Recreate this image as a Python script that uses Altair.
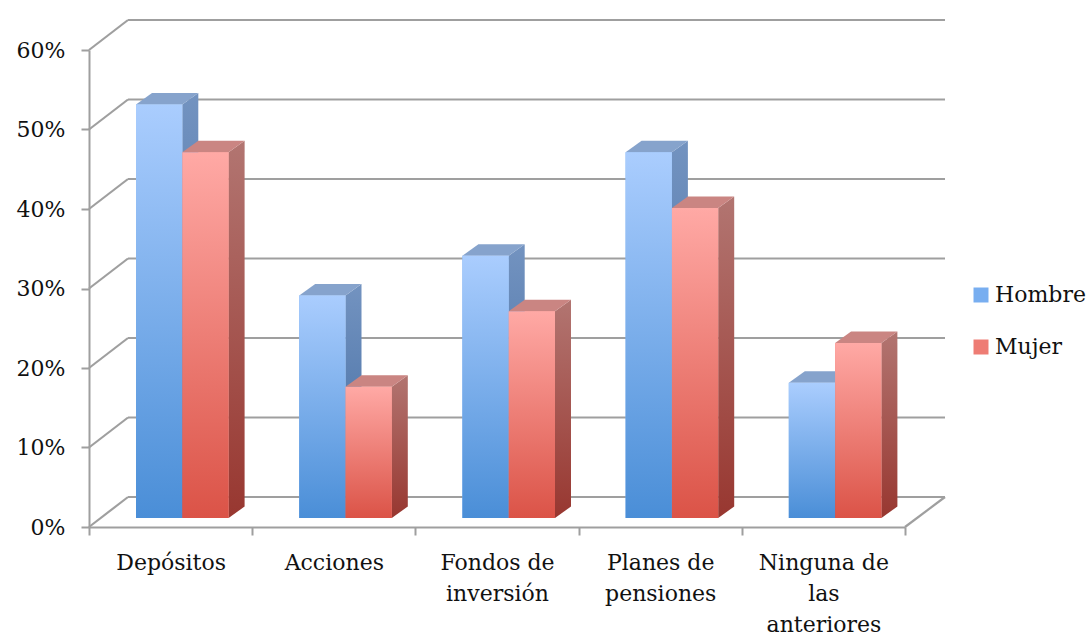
import altair as alt
import pandas as pd

# ---------------- data ----------------
categories = ["Depósitos", "Acciones", "Fondos de inversión", "Planes de pensiones", "Ninguna de las anteriores"]
label_lines = [["Depósitos"], ["Acciones"], ["Fondos de", "inversión"], ["Planes de", "pensiones"], ["Ninguna de", "las", "anteriores"]]
series = ["Hombre", "Mujer"]
hombre = [0.52, 0.28, 0.33, 0.46, 0.17]
mujer = [0.46, 0.165, 0.26, 0.39, 0.22]
y_ticks = [0, 0.1, 0.2, 0.3, 0.4, 0.5, 0.6]
x_ticks = [0, 1, 2, 3, 4, 5]

# ---------------- style / geometry (pixels) ----------------
W, H = 816, 477
XMAX, YMAX = len(categories), 0.6
ux = XMAX / W
uy = YMAX / H
BAR_LEFT, BAR_W, BAR_BASE = 47, 46.3, 9
DEPTH_X, DEPTH_Y = 16, 11.5
WALL_XL, WALL_XR, WALL_Y = 39, 40, 30
FONT = "DejaVu Serif"
GRID = "#9f9f9f"

# bars
rows = []
for i, c in enumerate(categories):
    for s, name in enumerate(series):
        v = (hombre if s == 0 else mujer)[i]
        x0 = i + (BAR_LEFT + s * BAR_W) * ux
        rows.append(dict(cat=c, series=name, bar=f"{i}-{s}", value=v,
                         x0=x0, x1=x0 + BAR_W * ux,
                         base=BAR_BASE * uy, top=BAR_BASE * uy + v))
bars = pd.DataFrame(rows)

dxu, dyu = DEPTH_X * ux, DEPTH_Y * uy
side_rows, top_rows = [], []
for r in rows:
    side_rows += [dict(series=r["series"], bar=r["bar"], x=r["x1"], lo=r["base"], hi=r["top"]),
                  dict(series=r["series"], bar=r["bar"], x=r["x1"] + dxu, lo=r["base"] + dyu, hi=r["top"] + dyu)]
    t = r["top"]
    top_rows += [dict(series=r["series"], bar=r["bar"], x=r["x0"], lo=t, hi=t),
                 dict(series=r["series"], bar=r["bar"], x=r["x0"] + dxu, lo=t, hi=t + dyu),
                 dict(series=r["series"], bar=r["bar"], x=r["x1"], lo=t, hi=t + dyu),
                 dict(series=r["series"], bar=r["bar"], x=r["x1"] + dxu, lo=t + dyu, hi=t + dyu)]
sides = pd.DataFrame(side_rows)
tops = pd.DataFrame(top_rows)

grid = pd.DataFrame({"v": y_ticks})
grid["vb"] = grid["v"] + WALL_Y * uy
grid["xl"] = 0.0
grid["xb0"] = WALL_XL * ux
grid["xb1"] = XMAX + WALL_XR * ux
grid["xr"] = float(XMAX)

# ---------------- scales / axes ----------------
xscale = alt.Scale(domain=[0, XMAX], nice=False, zero=False)
yscale = alt.Scale(domain=[0, YMAX], nice=False)

label_js = "[" + ",".join("[" + ",".join("'" + s + "'" for s in l) + "]" for l in label_lines) + ",['']]"
xaxis = alt.Axis(values=x_ticks, title=None, grid=False, tickSize=8, tickColor=GRID, tickWidth=2,
                 domainColor=GRID, domainWidth=2, labelOffset=W / XMAX / 2,
                 labelExpr=label_js + "[datum.value]", labelFont=FONT, labelFontSize=22,
                 labelColor="#111111", labelPadding=17, labelOverlap=False, labelFlush=False,
                 labelBound=False, labelLineHeight=31, labelBaseline="top")
yaxis = alt.Axis(values=y_ticks, format=".0%", title=None, grid=False, tickSize=8, tickColor=GRID,
                 tickWidth=2, domainColor=GRID, domainWidth=2, labelFont=FONT, labelFontSize=22,
                 labelColor="#111111", labelPadding=16)


def X(f):
    return alt.X(f, type="quantitative", scale=xscale, axis=xaxis)


def Y(f):
    return alt.Y(f, type="quantitative", scale=yscale, axis=yaxis)


def grad(top, bottom):
    return alt.LinearGradient(gradient="linear", x1=0, x2=0, y1=0, y2=1,
                              stops=[alt.GradientStop(color=top, offset=0),
                                     alt.GradientStop(color=bottom, offset=1)])


palette = {
    "Hombre": dict(front=grad("#aacdfe", "#4a8ed7"), side=grad("#7393c0", "#3c679e"), top="#86a3cc"),
    "Mujer": dict(front=grad("#ffa9a5", "#db5347"), side=grad("#b27571", "#983730"), top="#ca8582"),
}

# ---------------- layers ----------------
back_lines = alt.Chart(grid).mark_rule(color=GRID, strokeWidth=2.2).encode(
    x=X("xb0"), x2="xb1", y=Y("vb"))
connectors = alt.Chart(grid).mark_rule(color=GRID, strokeWidth=2.2).encode(
    x=X("xl"), x2="xb0", y=Y("v"), y2="vb")
floor_right = alt.Chart(grid).transform_filter("datum.v == 0").transform_calculate(
    xr2=f"{XMAX} + {WALL_XR * ux}").mark_rule(color=GRID, strokeWidth=2.2).encode(
    x=X("xr"), x2="xr2", y=Y("v"), y2="vb")

legend_layer = alt.Chart(bars).mark_rect().encode(
    x=X("x0"), x2="x1", y=Y("base"), y2="top",
    color=alt.Color("series:N", scale=alt.Scale(domain=series, range=["#78aef0", "#ee7c74"]),
                    legend=alt.Legend(orient="none", legendX=881, legendY=234, title=None,
                                      symbolType="square", symbolSize=225, symbolStrokeWidth=0,
                                      labelFont=FONT, labelFontSize=22, labelColor="#111111",
                                      rowPadding=30, labelOffset=3, padding=0)))

layers = [back_lines, connectors, floor_right, legend_layer]
for name in series:
    p = palette[name]
    layers.append(alt.Chart(sides).transform_filter(alt.datum.series == name).mark_area(
        color=p["side"], interpolate="linear").encode(x=X("x"), y=Y("lo"), y2="hi", detail="bar:N"))
    layers.append(alt.Chart(tops).transform_filter(alt.datum.series == name).mark_area(
        color=p["top"], interpolate="linear").encode(x=X("x"), y=Y("lo"), y2="hi", detail="bar:N"))
    layers.append(alt.Chart(bars).transform_filter(alt.datum.series == name).mark_rect(
        color=p["front"]).encode(x=X("x0"), x2="x1", y=Y("base"), y2="top"))

chart = alt.layer(*layers).properties(
    width=W, height=H,
    autosize=alt.AutoSizeParams(type="none"),
    padding={"left": 89, "top": 50, "right": 1087 - 89 - W, "bottom": 635 - 50 - H},
    background="white",
).configure_view(stroke=None)

chart.save("out.html", embed_options={"renderer": "svg", "actions": False})
